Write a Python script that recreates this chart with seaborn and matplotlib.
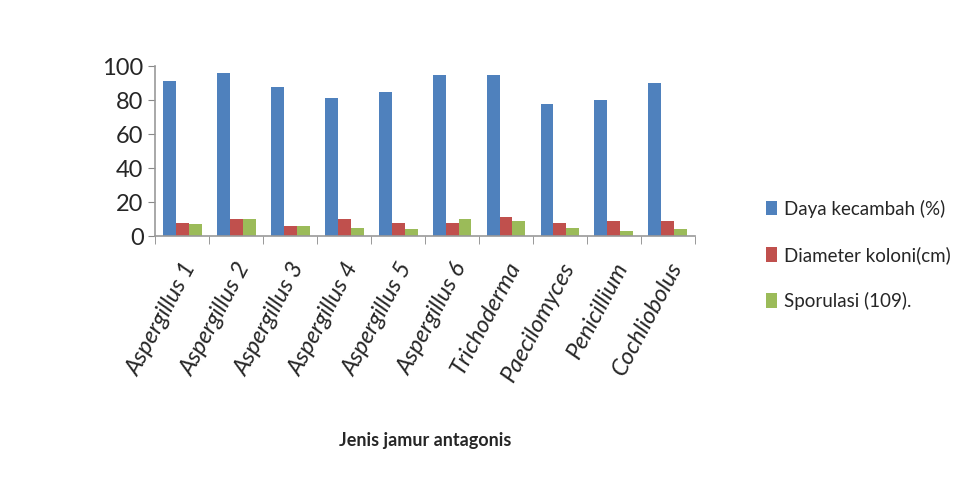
import matplotlib.pyplot as plt
import seaborn as sns
import pandas as pd
import numpy as np

# data
jamur = ['Aspergillus 1', 'Aspergillus 2', 'Aspergillus 3', 'Aspergillus 4', 'Aspergillus 5',
         'Aspergillus 6', 'Trichoderma', 'Paecilomyces', 'Penicillium', 'Cochliobolus']
daya_kecambah = [91, 96, 88, 81, 85, 95, 95, 78, 80, 90]
diameter_koloni = [8, 10, 6, 10, 8, 8, 11, 8, 9, 9]
sporulasi = [7, 10, 6, 5, 4, 10, 9, 5, 3, 4]

series = ['Daya kecambah (%)', 'Diameter koloni(cm)', 'Sporulasi (109).']
colors = ['#4F81BD', '#C0504D', '#9BBB59']

df = pd.DataFrame({'Jenis': jamur,
                   series[0]: daya_kecambah,
                   series[1]: diameter_koloni,
                   series[2]: sporulasi})
df_melted = df.melt(id_vars='Jenis', var_name='Seri', value_name='Nilai')

sns.set_style('white')
plt.rcParams['font.family'] = ['Lato', 'DejaVu Sans']

fig = plt.figure(figsize=(9.65, 4.86), dpi=100)
ax = fig.add_axes([0.161, 0.514, 0.559, 0.35])

sns.barplot(data=df_melted, x='Jenis', y='Nilai', hue='Seri', palette=colors,
            saturation=1, width=0.72, edgecolor='none', ax=ax)

ax.set_ylim(0, 100)
ax.set_yticks(np.arange(0, 101, 20))
ax.tick_params(axis='y', labelsize=17, length=5, color='#888888', direction='out', left=True)
ax.set_xlim(-0.5, len(jamur) - 0.5)

# category labels, ticks at group borders
ax.set_xticks(range(len(jamur)))
ax.set_xticklabels(jamur, rotation=62, ha='right', rotation_mode='anchor',
                   fontsize=17, style='italic')
ax.tick_params(axis='x', length=0, pad=16)
ax.set_xticks(np.arange(-0.5, len(jamur), 1), minor=True)
ax.tick_params(axis='x', which='minor', length=6, color='#888888', bottom=True)

for s in ['top', 'right']:
    ax.spines[s].set_visible(False)
for s in ['left', 'bottom']:
    ax.spines[s].set_color('#999999')
    ax.spines[s].set_linewidth(1.2)

ax.set_ylabel('')
ax.set_xlabel('Jenis jamur antagonis', fontsize=13, fontweight='bold', labelpad=34)

ax.legend(title=None, loc='center left', bbox_to_anchor=(1.1, -0.11), frameon=False,
          fontsize=13.5, labelspacing=1.5, handlelength=0.6, handleheight=0.8,
          handletextpad=0.4)

fig.savefig('out.png', dpi=100)
